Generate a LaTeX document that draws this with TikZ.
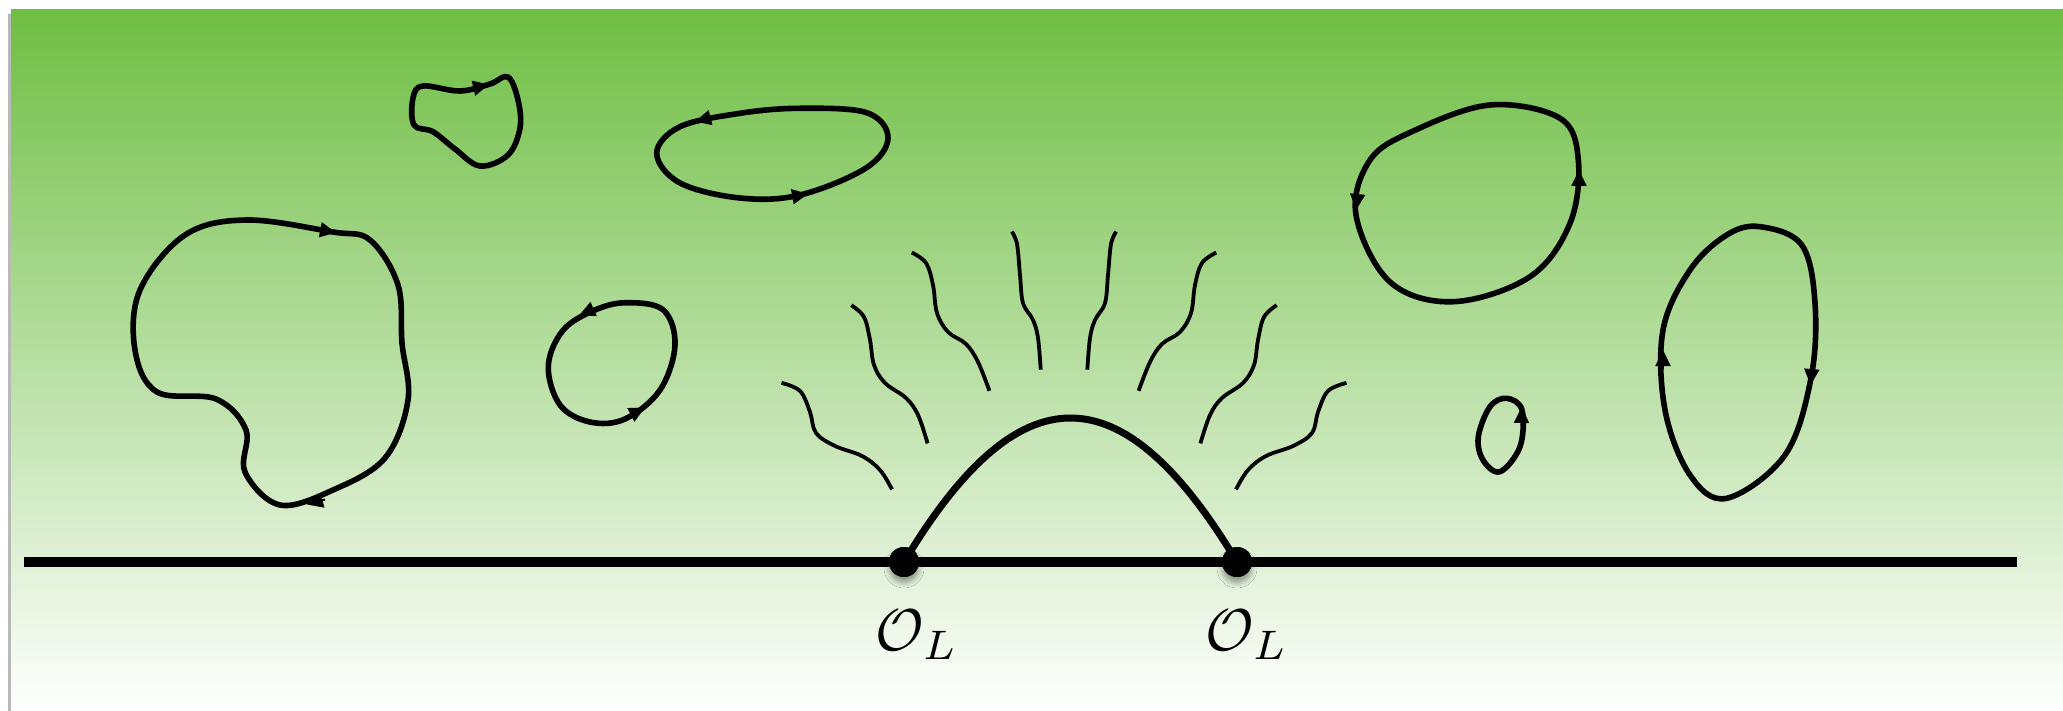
\documentclass[tikz,border=0pt]{standalone}
\usetikzlibrary{arrows.meta,shadows.blur}
\definecolor{topgreen}{RGB}{111,190,68}
\begin{document}
\begin{tikzpicture}[x=1pt,y=-1pt,
  loopline/.style={line width=5.6pt, line join=round},
  rayline/.style={line width=3.8pt},
  tipseg/.style={line width=2pt,-{Triangle[length=16pt,width=15pt]}},
  dotnode/.style={circle, fill=black, minimum size=30pt, inner sep=0pt,
     blur shadow={shadow xshift=0pt, shadow yshift=-6pt, shadow blur radius=5pt, shadow opacity=35}},
  dotfill/.style={circle, fill=black, minimum size=30pt, inner sep=0pt},
  lbl/.style={inner sep=0pt}]
\useasboundingbox (0,0) rectangle (2063,711);
% background
\fill[gray!55] (8,14) rectangle (11,711);
\shade[top color=topgreen, bottom color=white] (11,10) rectangle (2063,711);
% base line
\coordinate (hl) at (24,562);
\coordinate (hr) at (2017,562);
\draw[line width=10.5pt] (hl) -- (hr);
% dots and labels
\node[dotnode] (d1) at (904,562) {};
\node[dotnode] (d2) at (1237,562) {};
\node[lbl] (l1) at (917,635) {\scalebox{5.9}{$\mathcal{O}_L$}};
\node[lbl] (l2) at (1247,635) {\scalebox{5.9}{$\mathcal{O}_L$}};
% arch
\draw[line width=7pt] (d1.center) .. controls (1019,370) and (1122,370) .. (d2.center);
\node[dotfill] at (d1) {};
\node[dotfill] at (d2) {};
% rays left
\begin{scope}[rayline]
\draw plot[smooth, tension=0.6] coordinates {(781.5,382.9) (800,391) (810,412) (816,433) (835,446) (862,456) (880,470) (892,489.4)};
\draw plot[smooth, tension=0.6] coordinates {(851.3,305.2) (864,317) (870,340) (874,365) (885,383) (906,398) (918,415) (927.6,443.4)};
\draw plot[smooth, tension=0.6] coordinates {(911.8,252.6) (926,263) (933,285) (937,313) (948,332) (966,344) (978,362) (989.4,390.8)};
\draw plot[smooth, tension=0.6] coordinates {(1011.8,231.6) (1017,244) (1020,275) (1023,303) (1033,320) (1038,338) (1040.7,369.7)};
\end{scope}
% rays right (mirror)
\begin{scope}[rayline, shift={(2128,0)}, xscale=-1]
\draw plot[smooth, tension=0.6] coordinates {(781.5,382.9) (800,391) (810,412) (816,433) (835,446) (862,456) (880,470) (892,489.4)};
\draw plot[smooth, tension=0.6] coordinates {(851.3,305.2) (864,317) (870,340) (874,365) (885,383) (906,398) (918,415) (927.6,443.4)};
\draw plot[smooth, tension=0.6] coordinates {(911.8,252.6) (926,263) (933,285) (937,313) (948,332) (966,344) (978,362) (989.4,390.8)};
\draw plot[smooth, tension=0.6] coordinates {(1011.8,231.6) (1017,244) (1020,275) (1023,303) (1033,320) (1038,338) (1040.7,369.7)};
\end{scope}
% loop A
\draw[loopline] plot[smooth cycle, tension=0.6] coordinates {(246.7,220) (333,232) (370,240) (398,285) (402,343) (408,400) (385,458) (333,490) (280,505) (245,472) (246,430) (216,399) (157,392) (135,350) (140,290) (185,235)};
\draw[tipseg] (318,229.3) -- (336,232.7);
\draw[tipseg] (325,499.5) -- (307,504.5);
% loop B
\draw[loopline] plot[smooth cycle, tension=0.6] coordinates {(423,86) (460,91) (490,84) (508,77) (518,100) (520,128) (508,155) (480,166) (455,149) (433,131.7) (414,125) (413,98)};
\draw[tipseg] (470,89) -- (489,84.5);
% loop C
\draw[loopline] plot[smooth cycle, tension=0.6] coordinates {(656.7,153.3) (680,126.7) (740,113.3) (800,108.3) (866.7,112.7) (888,138) (866,168) (800,195) (740,198) (680,183)};
\draw[tipseg] (713,117) -- (695,121.5);
\draw[tipseg] (788,197.5) -- (808,193.8);
% loop D
\draw[loopline] plot[smooth cycle, tension=0.6] coordinates {(626.7,302.7) (663.3,310) (675,345) (660,390) (625,419) (590,422) (560,405) (548.3,366) (563.3,330) (595,310)};
\draw[tipseg] (598,307) -- (579,315.5);
\draw[tipseg] (625,418) -- (645,407.5);
% loop E
\draw[loopline] plot[smooth cycle, tension=0.6] coordinates {(1370,160) (1413.3,131) (1490,105) (1560,118.3) (1578.3,160) (1570,223.3) (1530,276.7) (1453.3,301.7) (1390,282) (1356,215)};
\draw[tipseg] (1358,191) -- (1356,210);
\draw[tipseg] (1579,189) -- (1579,170);
% loop F
\draw[loopline] plot[smooth cycle, tension=0.6] coordinates {(1726.7,235) (1760,226.7) (1801.7,245) (1815,303.3) (1811,378) (1785,455) (1726.7,498.3) (1690,475) (1665,410) (1663,330) (1690,270)};
\draw[tipseg] (1812,367) -- (1810.5,385);
\draw[tipseg] (1663,369) -- (1663,350);
% loop G
\draw[loopline] plot[smooth cycle, tension=0.6] coordinates {(1506.7,398.3) (1522,410) (1520,446.7) (1500,471.7) (1483,460) (1478.3,436.7) (1490,406.7)};
\draw[tipseg] (1521.5,425) -- (1521.7,407);
\end{tikzpicture}
\end{document}
